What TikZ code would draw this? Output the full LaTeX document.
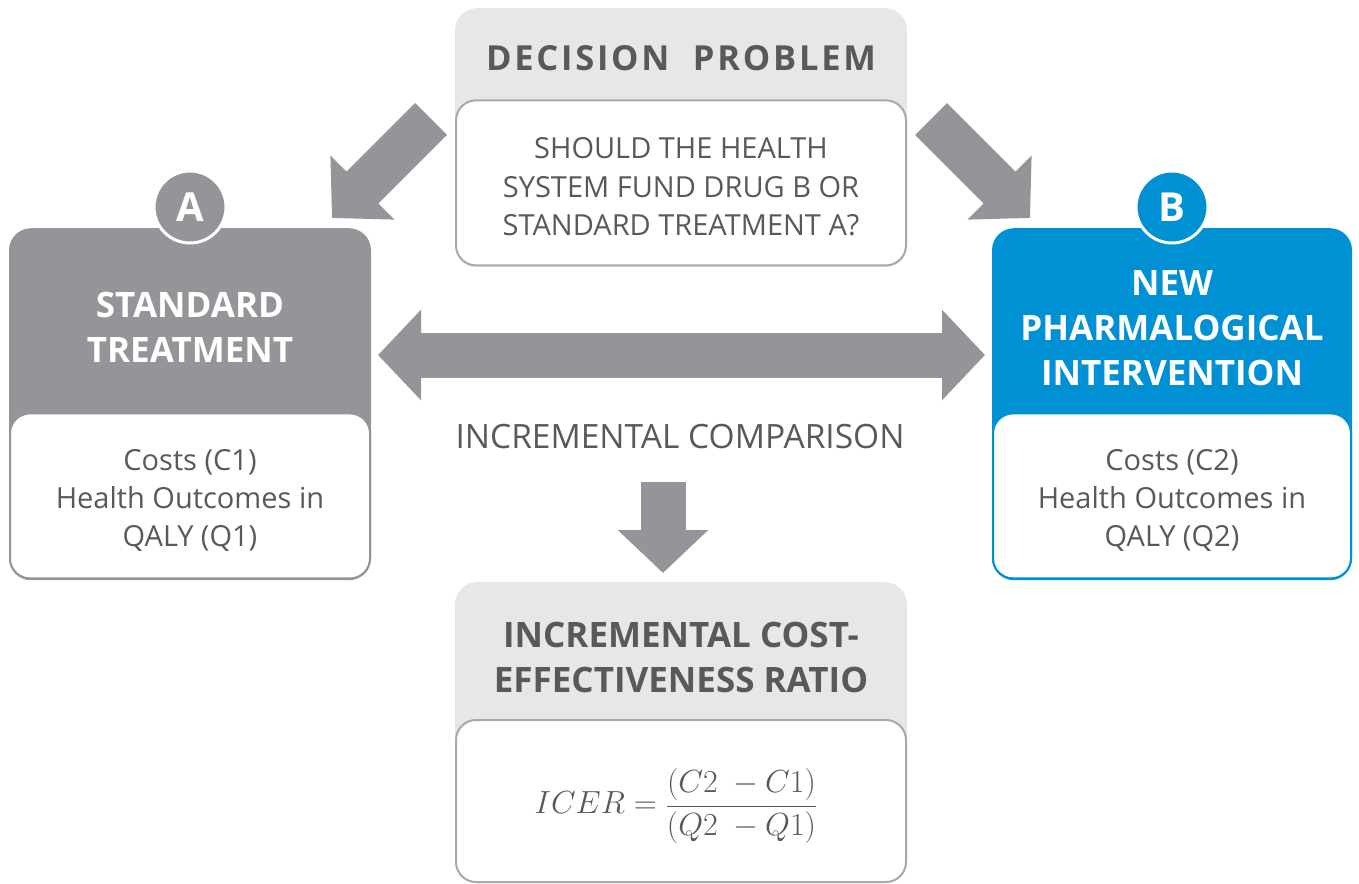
\RequirePackage{fix-cm}
\documentclass[tikz,border=0pt]{standalone}
\usepackage[no-math]{fontspec}
\setmainfont{Open Sans}
\usetikzlibrary{positioning, arrows.meta}
\definecolor{boxgray}{HTML}{939598}
\definecolor{panelgray}{HTML}{E6E7E8}
\definecolor{inkgray}{HTML}{58595B}
\definecolor{rimgray}{HTML}{A7A9AC}
\definecolor{drugblue}{HTML}{0090D4}
\tikzset{
x=1pt, y=-1pt, % pixel units, y running down as in the sketch
panel/.style={rectangle, rounded corners=22pt, inner sep=0pt, minimum width=452pt}, % the big rounded boxes
valuebox/.style={rectangle, rounded corners=20pt, fill=white, line width=2pt, inner sep=0pt}, % white box inside a panel
values/.style={align=center, text=inkgray, font=\fontsize{29}{38}\selectfont}, % plain text lines
heading/.style={align=center, font=\bfseries\fontsize{35}{45}\selectfont}, % bold titles
badge/.style={circle, minimum size=72pt, inner sep=0pt, draw=white, line width=3pt, text=white, font=\bfseries\fontsize{40}{40}\selectfont}, % the A and B discs
blocktip/.tip={Triangle[width=88pt, length=43pt]}, % fat arrow head
fatarrow/.style={draw=boxgray, line width=45pt, -blocktip}, % block arrows
}

\begin{document}
\begin{tikzpicture}
    \useasboundingbox (0,0) rectangle (1359,883);
    % decision problem
    \node[panel, fill=panelgray, minimum height=259pt, anchor=north] (decision) at (681,8) {};
    \node[valuebox, draw=rimgray, minimum width=450pt, minimum height=165pt, anchor=south] (question) at ([yshift=1pt]decision.south) {};
    \node[values, font=\fontsize{29}{38.5}\selectfont] (questiontext) at (681,187) {SHOULD THE HEALTH\\SYSTEM FUND DRUG B OR\\STANDARD TREATMENT A?};
    \node[heading, text=inkgray, font=\bfseries\fontsize{34.5}{40}\selectfont\addfontfeature{LetterSpace=8}] (decisionhead) at (681,58) {DECISION~~PROBLEM};

    % standard treatment A
    \node[panel, fill=boxgray, minimum width=362pt, minimum height=352pt, anchor=north] (standard) at (190,228) {};
    \node[valuebox, draw=boxgray, minimum width=360pt, minimum height=165pt, anchor=south] (standardvals) at ([yshift=1pt]standard.south) {};
    \node[values] (standardtext) at (190,500) {Costs (C1)\\Health Outcomes in\\QALY (Q1)};
    \node[heading, text=white] (standardhead) at (190,327) {STANDARD\\TREATMENT};
    \node[badge, fill=boxgray] (badgeA) at (190,207) {A};

    % new drug B
    \node[panel, fill=drugblue, minimum width=360pt, minimum height=352pt, anchor=north] (newdrug) at (1172,228) {};
    \node[valuebox, draw=drugblue, minimum width=358pt, minimum height=165pt, anchor=south] (newdrugvals) at ([yshift=1pt]newdrug.south) {};
    \node[values] (newdrugtext) at (1172,500) {Costs (C2)\\Health Outcomes in\\QALY (Q2)};
    \node[heading, text=white] (newdrughead) at (1172,328) {NEW\\PHARMALOGICAL\\INTERVENTION};
    \node[badge, fill=drugblue] (badgeB) at (1172,207) {B};

    % arrows
    \coordinate (splitL) at (431,119);
    \coordinate (tipL) at (332,218);
    \coordinate (splitR) at (931,119);
    \coordinate (tipR) at (1030,218);
    \coordinate (cmpL) at (378,355);
    \coordinate (cmpR) at (985,355);
    \coordinate (downtop) at (663,482);
    \coordinate (downtip) at (663,573);
    \draw[fatarrow] (splitL) -- (tipL);
    \draw[fatarrow] (splitR) -- (tipR);
    \draw[fatarrow, blocktip-blocktip] (cmpL) -- (cmpR);
    \draw[fatarrow] (downtop) -- (downtip);
    \node[values, font=\fontsize{33.5}{38}\selectfont] (cmplabel) at (680,437) {INCREMENTAL COMPARISON};

    % ICER
    \node[panel, fill=panelgray, minimum height=300pt, anchor=north] (icer) at (681,582) {};
    \node[valuebox, draw=rimgray, minimum width=450pt, minimum height=162pt, anchor=north] (icerbox) at (681,719) {};
    \node[heading, text=inkgray] (icerhead) at (681,657) {INCREMENTAL COST-\\EFFECTIVENESS RATIO};
    \node[values, font=\fontsize{32}{38}\selectfont] (formula) at (676,806) {$\displaystyle ICER = \frac{(C2\ - C1)}{(Q2\ - Q1)}$};
\end{tikzpicture}
\end{document}
